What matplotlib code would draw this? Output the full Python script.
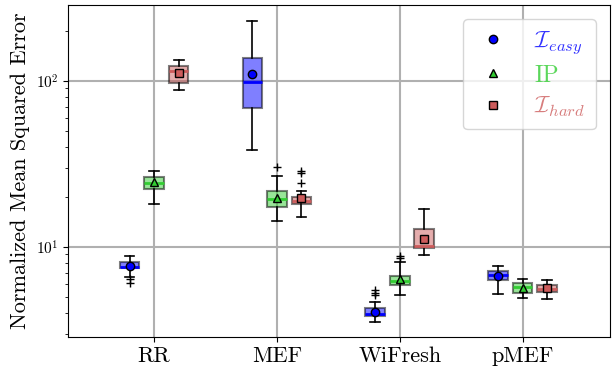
import numpy as np
import matplotlib
matplotlib.use("Agg")
import matplotlib.pyplot as plt
from matplotlib.lines import Line2D

plt.rcParams["font.family"] = "serif"
plt.rcParams["font.serif"] = ["cmr10", "DejaVu Serif"]
plt.rcParams["mathtext.fontset"] = "cm"
plt.rcParams["axes.formatter.use_mathtext"] = True

# datos
metodos = ["RR", "MEF", "WiFresh", "pMEF"]
series = [r"$\mathcal{I}_{easy}$", "IP", r"$\mathcal{I}_{hard}$"]

# por serie: [RR, MEF, WiFresh, pMEF]
easy_whislo = [6.62, 38.4, 3.53, 5.23]
easy_q1 = [7.50, 69.0, 3.84, 6.33]
easy_med = [7.60, 98.6, 3.96, 6.76]
easy_q3 = [8.09, 137.0, 4.27, 7.17]
easy_whishi = [8.86, 230.8, 4.64, 7.65]
easy_mean = [7.71, 110.7, 4.06, 6.71]
easy_fliers = [[6.39, 6.09], [], [5.51, 5.28, 5.12], []]

ip_whislo = [18.2, 14.3, 5.12, 4.93]
ip_q1 = [22.4, 17.5, 5.90, 5.30]
ip_med = [24.4, 19.5, 6.24, 5.71]
ip_q3 = [26.5, 21.7, 6.69, 6.10]
ip_whishi = [28.8, 26.9, 8.09, 6.44]
ip_mean = [24.6, 19.8, 6.39, 5.68]
ip_fliers = [[], [30.2], [8.86, 8.55], []]

hard_whislo = [87.9, 15.2, 8.99, 4.86]
hard_q1 = [97.3, 18.2, 9.90, 5.38]
hard_med = [114.9, 18.9, 10.1, 5.61]
hard_q3 = [123.0, 20.0, 12.8, 5.90]
hard_whishi = [133.8, 21.7, 16.9, 6.35]
hard_mean = [111.7, 19.8, 11.2, 5.66]
hard_fliers = [[], [28.6, 27.8, 24.2], [], []]

colores = ["blue", "limegreen", "indianred"]
marcadores = ["o", "^", "s"]


def armarStats(lo, q1, med, q3, hi, mean, fl):
    """arma la lista de dicts para bxp"""
    stats = []
    for i in range(len(lo)):
        stats.append({"whislo": lo[i], "q1": q1[i], "med": med[i], "q3": q3[i],
                      "whishi": hi[i], "mean": mean[i], "fliers": fl[i]})
    return stats


datos = [
    armarStats(easy_whislo, easy_q1, easy_med, easy_q3, easy_whishi, easy_mean, easy_fliers),
    armarStats(ip_whislo, ip_q1, ip_med, ip_q3, ip_whishi, ip_mean, ip_fliers),
    armarStats(hard_whislo, hard_q1, hard_med, hard_q3, hard_whishi, hard_mean, hard_fliers),
]

fig = plt.figure(figsize=(6.14, 3.71), dpi=100)
ax = fig.add_axes([0.111, 0.092, 0.882, 0.895])

x = np.arange(1, len(metodos) + 1)
desplaz = [-0.2, 0.0, 0.2]

for k in range(3):
    ax.bxp(datos[k], positions=x + desplaz[k], widths=0.16, patch_artist=True,
           showmeans=True, showfliers=True,
           boxprops=dict(facecolor=colores[k], alpha=0.5, edgecolor="black", linewidth=1.5),
           medianprops=dict(color=colores[k], linewidth=2),
           whiskerprops=dict(color="black", linewidth=1.2),
           capprops=dict(color="black", linewidth=1.2),
           flierprops=dict(marker="+", markeredgecolor="black", markersize=6),
           meanprops=dict(marker=marcadores[k], markerfacecolor=colores[k],
                          markeredgecolor="black", markersize=6))

ax.set_yscale("log")
ax.set_ylim(2.87, 287)
ax.set_xlim(0.3, 4.71)
ax.set_xticks(x)
ax.set_xticklabels(metodos, fontsize=16)
ax.tick_params(axis="y", labelsize=11)
ax.set_ylabel("Normalized Mean Squared Error", fontsize=16)
ax.grid(True, which="major", color="#b0b0b0", linewidth=1.5)
ax.set_axisbelow(True)

manejadores = [Line2D([], [], linestyle="none", marker=marcadores[k],
                      markerfacecolor=colores[k], markeredgecolor="black", markersize=6)
               for k in range(3)]
leg = ax.legend(manejadores, series, loc="upper right", fontsize=17,
                labelspacing=0.35, handlelength=1.6, handletextpad=0.95,
                borderpad=0.45, borderaxespad=0.6)
for t, c in zip(leg.get_texts(), colores):
    t.set_color(c)
    t.set_alpha(0.8)

fig.savefig("out.png", dpi=100)
